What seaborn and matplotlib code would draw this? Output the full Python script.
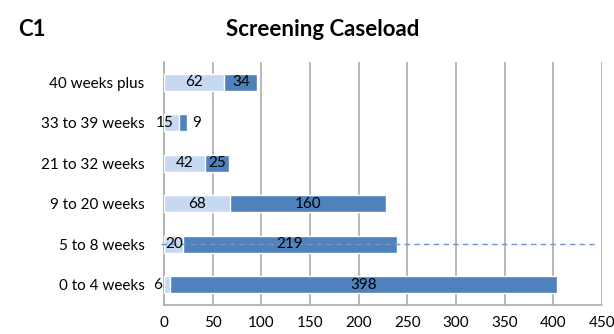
import matplotlib
matplotlib.use("Agg")
import matplotlib.pyplot as plt
import seaborn as sns
import pandas as pd
import numpy as np

# Screening caseload by waiting time band
categories = ["40 weeks plus", "33 to 39 weeks", "21 to 32 weeks",
              "9 to 20 weeks", "5 to 8 weeks", "0 to 4 weeks"]
first_part = [62, 15, 42, 68, 20, 6]
second_part = [34, 9, 25, 160, 219, 398]
x_ticks = [0, 50, 100, 150, 200, 250, 300, 350, 400, 450]
reference_row = "5 to 8 weeks"
reference_value = 444

LIGHT = "#c6d9f1"
DARK = "#4f81bd"
GRID = "#a6a6a6"

sns.set_theme(style="white")
plt.rcParams["font.family"] = ["Lato", "DejaVu Sans"]
plt.rcParams["text.color"] = "black"
plt.rcParams["xtick.labelcolor"] = "black"
plt.rcParams["ytick.labelcolor"] = "black"

df = pd.DataFrame({
    "band": categories,
    "first": first_part,
    "second": second_part,
})
df["total"] = df["first"] + df["second"]

fig = plt.figure(figsize=(6.14, 3.34), dpi=100)
ax = fig.add_axes([164 / 614, 1 - 305 / 334, (602 - 164) / 614, (305 - 62) / 334])

sns.barplot(data=df, y="band", x="total", order=categories, color=DARK,
            width=0.42, saturation=1, ax=ax, zorder=3)
sns.barplot(data=df, y="band", x="first", order=categories, color=LIGHT,
            width=0.42, saturation=1, ax=ax, zorder=3)

# dashed reference line across the 5-8 weeks row
ri = categories.index(reference_row)
ax.plot([-3, reference_value], [ri, ri], color="#6f97cc", lw=1.0,
        ls=(0, (4, 3)), zorder=4, clip_on=False)

# segment value labels
fs = 11
for i, (a, b) in enumerate(zip(first_part, second_part)):
    if a < 10:
        ax.text(-2, i, str(a), ha="right", va="center", fontsize=fs, zorder=5)
    elif a + b < 30:
        ax.text(a / 2 - 7, i, str(a), ha="center", va="center", fontsize=fs, zorder=5)
    else:
        ax.text(a / 2, i, str(a), ha="center", va="center", fontsize=fs, zorder=5)
    if b < 15:
        ax.text(a + b + 5, i, str(b), ha="left", va="center", fontsize=fs, zorder=5)
    else:
        ax.text(a + b / 2, i, str(b), ha="center", va="center", fontsize=fs, zorder=5)

ax.set_xlim(0, 450)
ax.set_ylim(len(categories) - 0.5, -0.5)
ax.set_xticks(x_ticks)
ax.set_xticklabels([str(t) for t in x_ticks], fontsize=fs)
ax.set_yticks(range(len(categories)))
ax.set_yticklabels(categories, fontsize=fs)
ax.set_yticks(np.arange(-0.5, len(categories), 1.0), minor=True)
ax.set_xlabel("")
ax.set_ylabel("")

ax.xaxis.grid(True, color=GRID, lw=1.1, zorder=0)
ax.set_axisbelow(True)
for s in ["top", "right", "bottom"]:
    ax.spines[s].set_visible(False)
ax.spines["left"].set_color(GRID)
ax.spines["left"].set_linewidth(1.1)

ax.tick_params(axis="y", which="major", length=0, pad=14)
ax.tick_params(axis="y", which="minor", length=5, width=1.1, color=GRID, direction="out")
ax.tick_params(axis="x", which="major", length=5, width=1.1, color=GRID,
               direction="out", pad=3)
ax.axhline(len(categories) - 0.5, color=GRID, lw=1.1, zorder=2, clip_on=False)

fig.text(18 / 614, 1 - 29 / 334, "C1", fontsize=16, fontweight="bold",
         ha="left", va="center", color="black")
fig.text(323 / 614, 1 - 29 / 334, "Screening Caseload", fontsize=16,
         fontweight="bold", ha="center", va="center", color="black")

fig.savefig("out.png", dpi=100)
